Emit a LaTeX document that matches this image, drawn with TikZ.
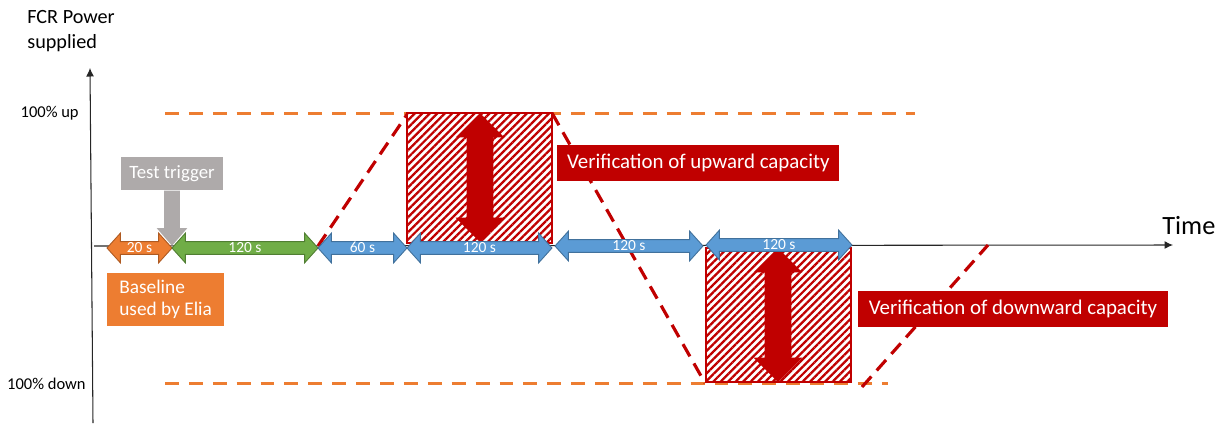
\documentclass[tikz,border=0pt]{standalone}
\usepackage{fontspec}
\setmainfont{Carlito}
\usetikzlibrary{positioning,arrows.meta,shapes.arrows,patterns.meta}
\definecolor{veriRed}{HTML}{C00000}
\definecolor{limOrange}{HTML}{ED7D31}
\definecolor{spanOrange}{HTML}{ED7D31}
\definecolor{spanOrangeB}{HTML}{AE5A21}
\definecolor{spanGreen}{HTML}{70AD47}
\definecolor{spanGreenB}{HTML}{507E32}
\definecolor{spanBlue}{HTML}{5B9BD5}
\definecolor{spanBlueB}{HTML}{41719C}
\definecolor{trigGray}{HTML}{AEAAAA}
\newcommand{\pxu}{0.02cm}
\tikzset{%
axis/.style={draw=black!85,line width=0.6pt,-{Latex[length=1.7mm,width=1.6mm]}},
limit/.style={draw=limOrange,line width=1.7pt,dash pattern=on 7.9pt off 5.7pt},
profile/.style={draw=veriRed,line width=1.8pt,dash pattern=on 8pt off 4.6pt},
span/.style={double arrow,double arrow tip angle=96,double arrow head extend=0.17cm,
  text height=5.4pt,text depth=0pt,inner ysep=0.7pt,inner xsep=0pt,
  font=\fontsize{8.8}{8.8}\selectfont,text=white,line width=0.5pt,minimum height=#1*\pxu},
orangespan/.style={span=#1,fill=spanOrange,draw=spanOrangeB},
greenspan/.style={span=#1,fill=spanGreen,draw=spanGreenB},
bluespan/.style={span=#1,fill=spanBlue,draw=spanBlueB},
hatchbox/.style={draw=veriRed,line width=0.6pt,preaction={fill=white},
  pattern={Lines[angle=45,distance=3pt,line width=1.3pt]},pattern color=veriRed,inner sep=0},
bigarrow/.style={double arrow,rotate=90,fill=veriRed,double arrow tip angle=90,
  double arrow head extend=0.22cm,inner xsep=0pt,inner ysep=0.26cm,
  text height=0pt,text depth=0pt,minimum height=#1*\pxu},
tag/.style={fill=veriRed,text=white,font=\fontsize{11.9}{13}\selectfont,
  minimum height=36*\pxu,inner sep=0},
ticklabel/.style={font=\fontsize{9.4}{11}\selectfont,anchor=east,inner sep=0}
}

\begin{document}
\begin{tikzpicture}[x=\pxu,y=-\pxu]
\useasboundingbox (0,0) rectangle (1221,424);

% axes
\coordinate (ybot) at (93,423);
\coordinate (ytop) at (90,68);
\coordinate (xorig) at (94,246);
\coordinate (xend) at (1173,245);
\draw[axis] (ybot) -- (ytop);
\draw[axis] (xorig) -- (xend);
\node[font=\fontsize{11.5}{14.2}\selectfont,align=left,anchor=west,inner sep=0] (ylab) at (27,31) {FCR Power\\supplied};
\node[font=\fontsize{15}{15}\selectfont,anchor=west,inner sep=0] (xlab) at (1162,226) {Time};
\node[ticklabel] (uplab) at (79,113) {100\% up};
\node[ticklabel] (downlab) at (86,384) {100\% down};

% 100% limits
\coordinate (upA) at (165,113);
\coordinate (upB) at (915,113);
\coordinate (dnA) at (165,383);
\coordinate (dnB) at (888,383);
\draw[limit] (upA) -- (upB);
\draw[limit] (dnA) -- (dnB);

% power profile
\coordinate (p0) at (318,246);
\coordinate (p1) at (408,113);
\coordinate (p2) at (552,113);
\coordinate (p3) at (705,383);
\coordinate (p4) at (862,387);
\coordinate (p5) at (988,245);
\draw[profile] (p0) -- (p1);
\draw[profile] (p2) -- (p3);
\draw[profile] (p4) -- (p5);

% verification windows
\node[hatchbox,minimum width=145*\pxu,minimum height=130*\pxu] (upbox) at (479.5,178) {};
\node[hatchbox,minimum width=145*\pxu,minimum height=134*\pxu] (downbox) at (778.5,315) {};
\node[bigarrow=129] (uparrow) at (480,177.5) {};
\node[bigarrow=134] (downarrow) at (778,315) {};

% time spans
\node[orangespan=65] (s20) at (139.5,248) {20 s};
\node[greenspan=146] (s120a) at (245,248) {120 s};
\node[bluespan=89] (s60) at (362.5,248) {60 s};
\node[bluespan=145] (s120b) at (479.5,248) {120 s};
\node[bluespan=148] (s120c) at (629,246) {120 s};
\node[bluespan=146] (s120d) at (779,245) {120 s};

% trigger and labels
\node[fill=trigGray,text=white,font=\fontsize{10.7}{12}\selectfont,minimum width=102*\pxu,minimum height=33*\pxu,inner sep=0] (trigger) at (172,173.5) {Test trigger};
\node[single arrow,fill=trigGray,rotate=-90,anchor=tail,single arrow tip angle=82,
  single arrow head extend=0.15cm,inner xsep=0pt,inner ysep=0.15cm,
  text height=0pt,text depth=0pt,minimum height=55*\pxu] (trigarrow) at (trigger.south) {};
\node[fill=spanOrange,text=white,font=\fontsize{11}{12.2}\selectfont,align=left,
  inner xsep=0.24cm,minimum height=53*\pxu,anchor=west] (baseline) at (107,299.5) {Baseline\\used by Elia};
\node[tag,minimum width=282*\pxu,anchor=west] (uptag) at (557,163) {Verification of upward capacity};
\node[tag,minimum width=310*\pxu] (downtag) at (1013,309) {Verification of downward capacity};
\end{tikzpicture}
\end{document}
